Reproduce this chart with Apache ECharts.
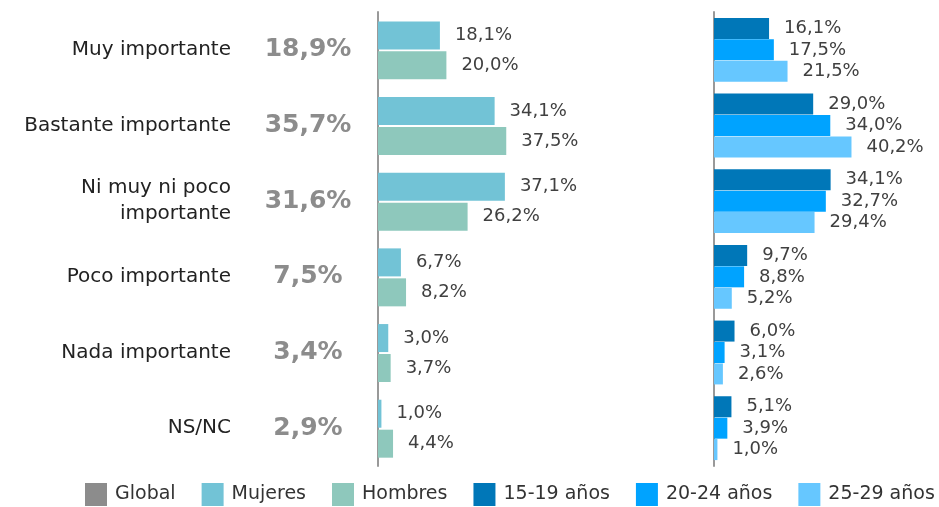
<!DOCTYPE html>
<html>
<head>
<meta charset="utf-8">
<script src="https://cdn.jsdelivr.net/npm/echarts@6/dist/echarts.min.js"></script>
<style>
  html, body { margin: 0; padding: 0; background: #fff; }
  #chart { width: 939px; height: 507px; }
</style>
</head>
<body>
<div id="chart"></div>
<script>
const categories = ['Muy importante', 'Bastante importante', 'Ni muy ni poco\nimportante', 'Poco importante', 'Nada importante', 'NS/NC']
const globalVals = [18.9, 35.7, 31.6, 7.5, 3.4, 2.9]
const mujeres = [18.1, 34.1, 37.1, 6.7, 3.0, 1.0]
const hombres = [20.0, 37.5, 26.2, 8.2, 3.7, 4.4]
const age1519 = [16.1, 29.0, 34.1, 9.7, 6.0, 5.1]
const age2024 = [17.5, 34.0, 32.7, 8.8, 3.1, 3.9]
const age2529 = [21.5, 40.2, 29.4, 5.2, 2.6, 1.0]

const FONT = '"DejaVu Sans"'
const fmt = (v) => v.toFixed(1).replace('.', ',') + '%'

const valLabel = {
  show: true, position: 'right', distance: 15,
  color: '#404040', fontSize: 18, fontFamily: FONT,
  formatter: (p) => fmt(p.value),
}

const xAxisBase = { type: 'value', min: 0, max: 50, show: false }
const yAxisBase = {
  type: 'category', data: categories, inverse: true,
  axisTick: { show: false }, splitLine: { show: false },
}

const chart = echarts.init(document.getElementById('chart'), null, { renderer: 'canvas' })
chart.setOption({
  backgroundColor: '#fff',
  animation: false,
  textStyle: { fontFamily: FONT },
  grid: [
    { left: 378, top: 12, width: 171, height: 454 },
    { left: 714, top: 12, width: 171, height: 454 },
  ],
  xAxis: [
    { ...xAxisBase, gridIndex: 0 },
    { ...xAxisBase, gridIndex: 1 },
  ],
  yAxis: [
    {
      ...yAxisBase, gridIndex: 0,
      axisLine: { lineStyle: { color: '#999', width: 2 } },
      axisLabel: { margin: 147, color: '#222', fontSize: 20, fontFamily: FONT, lineHeight: 26, align: 'right' },
    },
    {
      ...yAxisBase, gridIndex: 0, position: 'left',
      data: globalVals.map(fmt),
      axisLine: { show: false },
      axisLabel: { margin: 70, align: 'center', color: '#8c8c8c', fontSize: 25, fontWeight: 'bold', fontFamily: FONT },
    },
    {
      ...yAxisBase, gridIndex: 1,
      axisLine: { lineStyle: { color: '#999', width: 2 } },
      axisLabel: { show: false },
    },
  ],
  legend: {
    left: 85, bottom: 1, width: 870, padding: 0,
    itemWidth: 22, itemHeight: 23, itemGap: 26,
    icon: 'rect',
    textStyle: { color: '#333', fontSize: 19, fontFamily: FONT, padding: [0, 0, 0, 3] },
    data: ['Global', 'Mujeres', 'Hombres', '15-19 años', '20-24 años', '25-29 años'],
  },
  series: [
    { name: 'Global', type: 'bar', xAxisIndex: 0, yAxisIndex: 0, data: [], itemStyle: { color: '#8c8c8c' } },
    { name: 'Mujeres', type: 'bar', xAxisIndex: 0, yAxisIndex: 0, data: mujeres, barWidth: 28, barGap: '7%', itemStyle: { color: '#72c3d6' }, label: valLabel },
    { name: 'Hombres', type: 'bar', xAxisIndex: 0, yAxisIndex: 0, data: hombres, barWidth: 28, barGap: '7%', itemStyle: { color: '#8ec8bc' }, label: valLabel },
    { name: '15-19 años', type: 'bar', xAxisIndex: 1, yAxisIndex: 2, data: age1519, barWidth: 21, barGap: '2%', itemStyle: { color: '#0077b8' }, label: valLabel },
    { name: '20-24 años', type: 'bar', xAxisIndex: 1, yAxisIndex: 2, data: age2024, barWidth: 21, barGap: '2%', itemStyle: { color: '#00a3ff' }, label: valLabel },
    { name: '25-29 años', type: 'bar', xAxisIndex: 1, yAxisIndex: 2, data: age2529, barWidth: 21, barGap: '2%', itemStyle: { color: '#66c7ff' }, label: valLabel },
  ],
})
window.addEventListener('resize', () => chart.resize())
</script>
</body>
</html>
